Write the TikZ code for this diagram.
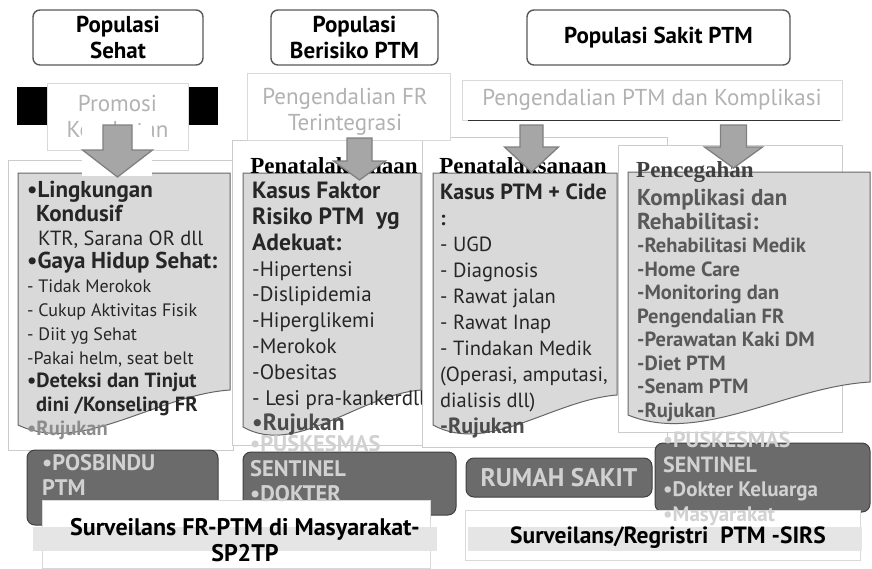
\documentclass[tikz,border=0pt]{standalone}
\usepackage{fontspec}
\setmainfont{PT Sans}
\newfontfamily\titlefont{Liberation Serif}
\usetikzlibrary{positioning}

\begin{document}
\begin{tikzpicture}[
  x=1pt, y=-1pt,
  font=\fontsize{19}{23}\selectfont,
  header/.style={draw=black!65, rounded corners=7pt, line width=1.4pt, fill=white,
    align=center, font=\fontsize{23}{26}\selectfont\bfseries},
  ghost/.style={draw=black!15, line width=0.5pt, fill=white},
  ghosttext/.style={text=black!30, font=\fontsize{23}{26}\selectfont},
  page/.style={draw=black!20, line width=0.5pt, fill=white},
  docbox/.style={draw=black!60, line width=1pt, fill=black!15},
  listtext/.style={anchor=north west, align=left, inner sep=0pt},
  doctitle/.style={font=\fontsize{23}{26}\selectfont\titlefont\bfseries, inner sep=0pt},
  blockarr/.style={draw=black!50, line width=1.3pt, fill=black!35},
  unit/.style={draw=black!75, line width=1pt, rounded corners=8pt, fill=black!58},
  unittext/.style={text=black!18, font=\fontsize{22.5}{25}\selectfont\bfseries,
    align=left, inner sep=0pt, anchor=north west},
  band/.style={fill=black!10},
  surveytext/.style={font=\fontsize{24}{26}\selectfont\bfseries, align=center, inner sep=0pt},
  pics/downarrow/.style args={#1/#2/#3/#4}{code={
    \draw[blockarr] (-#1,0) -- (#1,0) -- (#1,#3) -- (#2,#3) -- (0,#4) -- (-#2,#3) -- (-#1,#3) -- cycle;
  }}
]
\useasboundingbox[fill=white] (0,0) rectangle (872,568);

% population headers
\node[header, minimum width=170pt, minimum height=55pt] (sehat) at (118,37.5) {Populasi\\Sehat};
\node[header, minimum width=167pt, minimum height=55pt] (risiko) at (354.5,37.5) {Populasi\\Berisiko PTM};
\node[header, minimum width=263pt, minimum height=55pt] (sakit) at (658.5,37.5) {Populasi Sakit PTM};

% back pages
\draw[page] (8,160) rectangle (233,450);
\draw[page] (422,137) rectangle (667,447);
\draw[page] (232,140) rectangle (422,445);
\draw[page] (618,145) rectangle (842,432);

% program labels
\fill (17,87) rectangle (47,125);
\fill (188,87) rectangle (218,125);
\draw[ghost] (47,83) rectangle (188,150);
\node[ghosttext, align=center] (promosi) at (117.5,116) {Promosi\\Kesehatan};
\draw[ghost] (247,73) rectangle (450,140);
\node[ghosttext, align=center] (frint) at (345,112) {Pengendalian FR\\Terintegrasi};
\draw[ghost] (462,80) rectangle (842,120);
\draw[black!80, line width=0.8pt] (468,120) -- (840,120);
\node[ghosttext] (komplikasi) at (652,100) {Pengendalian PTM dan Komplikasi};

% document boxes
\draw[docbox] (18,173) -- (230,173) -- (230,390) .. controls (156,395) and (82,455) .. (18,425) -- cycle;
\draw[docbox] (243,173) -- (421,173) -- (421,390) .. controls (359,395) and (296,457) .. (243,427) -- cycle;
\draw[docbox] (433,173) -- (617,173) -- (617,395) .. controls (553,400) and (488,455) .. (433,425) -- cycle;
\draw[docbox] (628,172) -- (870,172) -- (870,382) .. controls (785,387) and (701,445) .. (628,415) -- cycle;

\node[doctitle] (tata1) at (334,166) {Penatalaksanaan};
\node[doctitle] (tata2) at (523,166) {Penatalaksanaan};
\node[doctitle, text=black!75, anchor=west] (cegah) at (636,172) {Pencegahan};

\node[listtext, text=black!85, font=\fontsize{18}{23.8}\selectfont] (list1) at (27,181) {%
  {\fontsize{23}{23.8}\selectfont\bfseries •Lingkungan}\\
  {\fontsize{23}{23.8}\selectfont\bfseries\hspace*{9pt}Kondusif}\\
  {\fontsize{20.5}{23.8}\selectfont\hspace*{11pt}KTR, Sarana OR dll}\\
  {\fontsize{23}{23.8}\selectfont\bfseries •Gaya Hidup Sehat:}\\
  - Tidak Merokok\\
  - Cukup Aktivitas Fisik\\
  - Diit yg Sehat\\
  -Pakai helm, seat belt\\
  {\fontsize{20.5}{23.8}\selectfont\bfseries •Deteksi dan Tinjut}\\
  {\fontsize{20.5}{23.8}\selectfont\bfseries\hspace*{9pt}dini /Konseling FR}\\
  {\fontsize{20.5}{23.8}\selectfont\bfseries\color{black!45}•Rujukan}};

\begin{scope}
  \clip (243,173) rectangle (421,450);
  \node[listtext, text=black!85, font=\fontsize{21}{25.8}\selectfont] (list2) at (252,182) {%
    {\fontsize{23.5}{25.8}\selectfont\bfseries Kasus Faktor}\\
    {\fontsize{23.5}{25.8}\selectfont\bfseries Risiko PTM\ \ yg}\\
    {\fontsize{23.5}{25.8}\selectfont\bfseries Adekuat:}\\
    -Hipertensi\\
    -Dislipidemia\\
    -Hiperglikemi\\
    -Merokok\\
    -Obesitas\\
    - Lesi pra-kankerdll\\
    {\fontsize{23.5}{25.8}\selectfont\bfseries\color{black!70}•Rujukan}};
\end{scope}

\begin{scope}
  \clip (433,173) rectangle (617,450);
  \node[listtext, text=black!85, font=\fontsize{20.5}{26}\selectfont] (list3) at (440,184) {%
    {\fontsize{22}{26}\selectfont\bfseries Kasus PTM + Cide}\\
    {\bfseries :}\\
    - UGD\\
    - Diagnosis\\
    - Rawat jalan\\
    - Rawat Inap\\
    - Tindakan Medik\\
    (Operasi, amputasi,\\
    dialisis dll)\\
    {\fontsize{22}{26}\selectfont\bfseries\color{black!70}-Rujukan}};
\end{scope}

\node[listtext, text=black!65, font=\fontsize{20.5}{23.5}\selectfont\bfseries] (list4) at (637,189) {%
  {\fontsize{23}{24}\selectfont Komplikasi dan}\\
  {\fontsize{23}{24}\selectfont Rehabilitasi:}\\
  -Rehabilitasi Medik\\
  -Home Care\\
  -Monitoring dan\\
  Pengendalian FR\\
  -Perawatan Kaki DM\\
  -Diet PTM\\
  -Senam PTM\\
  -Rujukan};

% block arrows
\fill[white] (82,125) rectangle (152,176);
\pic (arrsehat) at (117.5,125) {downarrow=14.5/35/25/52};
\pic (arrrisiko) at (359.5,138) {downarrow=12.5/26/23/42};
\pic (arrsakit) at (531.5,125) {downarrow=11.5/27/22/47};
\pic (arrkompl) at (733.5,125) {downarrow=13/29/22/43};

% service units
\draw[unit] (27,450) rectangle (218,525);
\draw[unit] (243,452) rectangle (456,515);
\draw[unit] (466,458) rectangle (652,497);
\draw[unit] (655,443) rectangle (870,512);

% surveillance
\draw[ghost] (42,500) rectangle (430,568);
\draw[ghost] (465,510) rectangle (860,560);
\fill[band] (33,527) rectangle (437,551);
\fill[band] (468,527) rectangle (862,551);

\node[unittext] (posbindu) at (42,454) {•POSBINDU\\PTM};
\node[unittext] (puskesmas) at (250,435) {•PUSKESMAS\\SENTINEL\\•DOKTER};
\node[unittext, anchor=center, font=\fontsize{25.5}{26}\selectfont\bfseries] (rs) at (559,478) {RUMAH SAKIT};
\node[unittext, font=\fontsize{22}{24.5}\selectfont\bfseries] (sentinel) at (663,432) {•PUSKESMAS\\SENTINEL\\{\fontsize{21}{24.5}\selectfont •Dokter Keluarga}\\{\fontsize{21}{24.5}\selectfont •Masyarakat}};

\node[surveytext] (sp2tp) at (245,540) {Surveilans FR-PTM di Masyarakat-\\SP2TP};
\node[surveytext, font=\fontsize{23.5}{24}\selectfont\bfseries] (sirs) at (668,538) {Surveilans/Regristri\ \ PTM -SIRS};

\end{tikzpicture}
\end{document}
